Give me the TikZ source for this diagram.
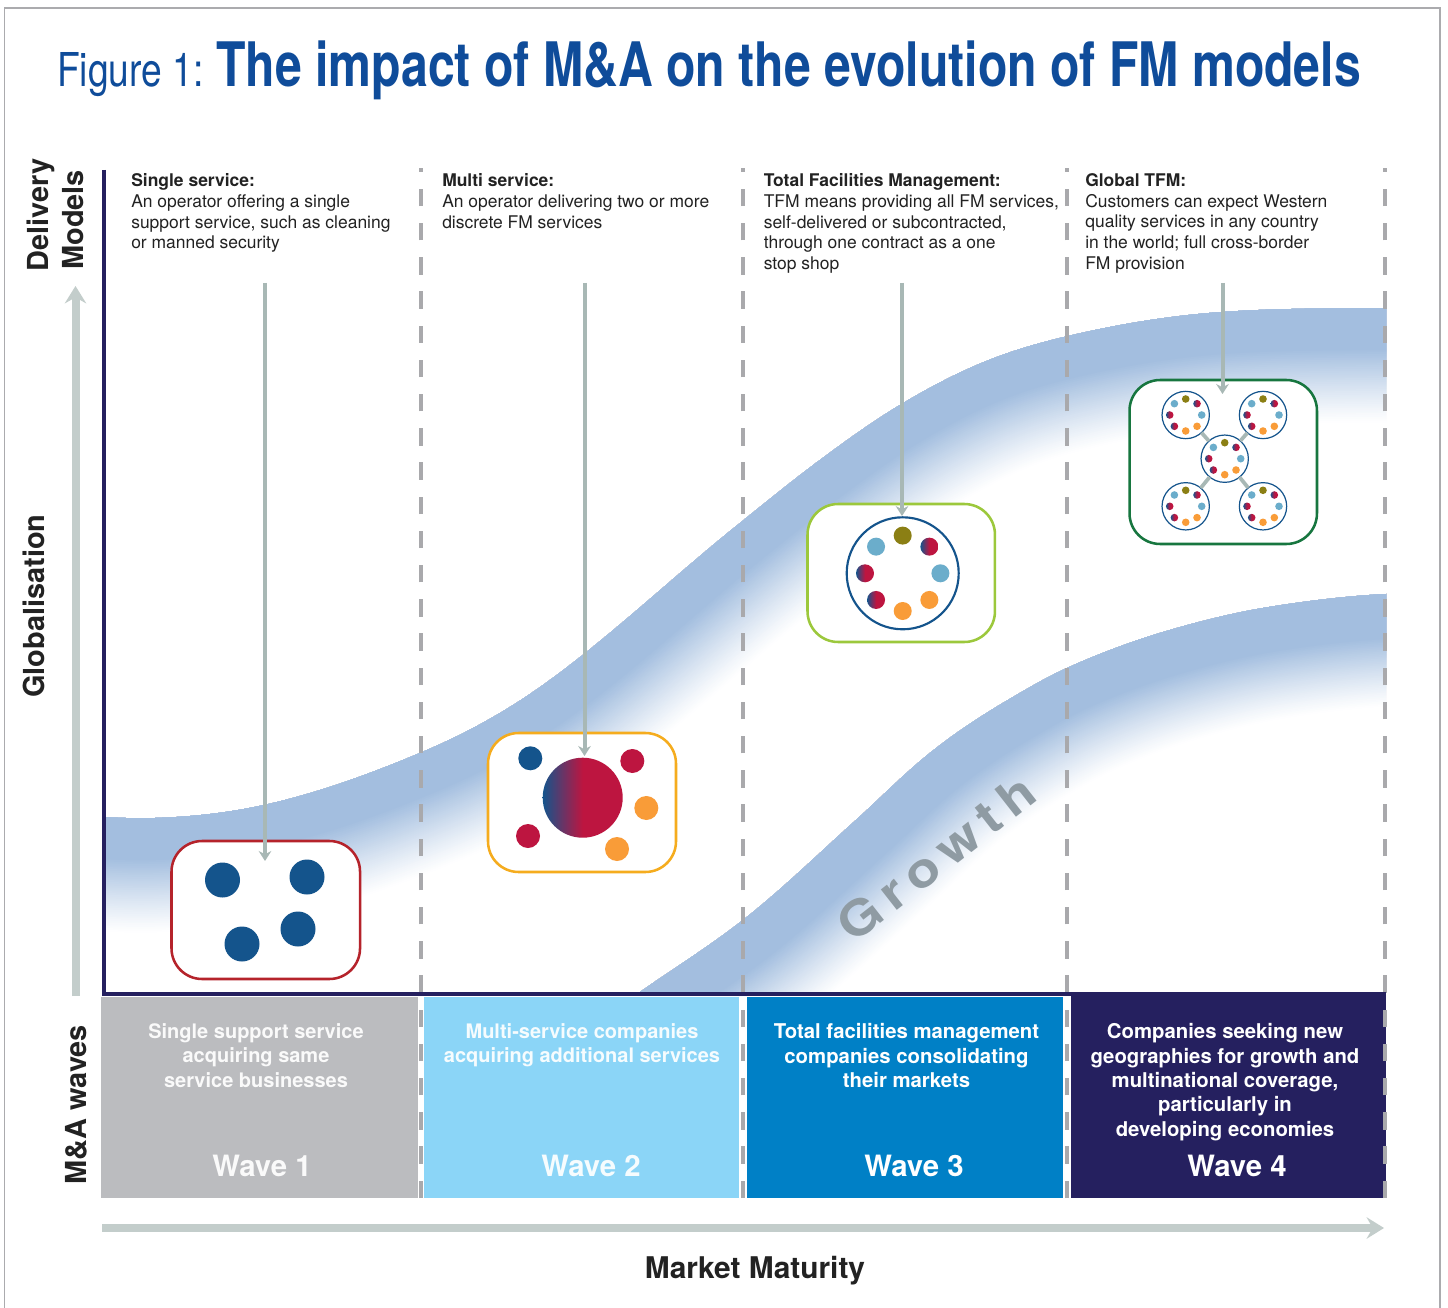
\documentclass[tikz,border=0pt]{standalone}
\usepackage{fontspec}
\usetikzlibrary{arrows.meta}
\setmainfont{TeX Gyre Heros}
\newfontfamily\titlefont[FakeStretch=0.786]{TeX Gyre Heros}
\newfontfamily\figfont[FakeStretch=0.797]{TeX Gyre Heros}
\newfontfamily\growthfont[LetterSpace=18,FakeStretch=1.15]{TeX Gyre Heros}
\definecolor{navy}{HTML}{25205F}
\definecolor{framegray}{HTML}{ABABAE}
\definecolor{dashgray}{HTML}{A9A9AC}
\definecolor{bandblue}{HTML}{A3BEDF}
\definecolor{titleblue}{HTML}{0F4C9A}
\definecolor{inktext}{HTML}{222222}
\definecolor{axisgray}{HTML}{C3CDCB}
\definecolor{arrowgray}{HTML}{A8B8B5}
\definecolor{dotblue}{HTML}{14548C}
\definecolor{dotred}{HTML}{BD1540}
\definecolor{dotorange}{HTML}{F99C38}
\definecolor{dotolive}{HTML}{8B7F14}
\definecolor{dotlight}{HTML}{6BADCB}
\definecolor{wavegray}{HTML}{BBBCBF}
\definecolor{wavesky}{HTML}{8BD5F7}
\definecolor{wavebright}{HTML}{0080C6}
\definecolor{growthgray}{HTML}{8F9BA3}
\definecolor{boxred}{HTML}{B5232B}
\definecolor{boxamber}{HTML}{F5AC1E}
\definecolor{boxlime}{HTML}{9CC83C}
\definecolor{boxgreen}{HTML}{17763F}
\tikzset{
  descr/.style={anchor=north west,align=left,inner sep=0pt,text=inktext,font=\fontsize{13.1}{15.5}\selectfont},
  wavetext/.style={anchor=north,align=center,inner sep=0pt,text=white,font=\bfseries\fontsize{15}{18.25}\selectfont},
  wavetextwide/.style={wavetext,font=\bfseries\fontsize{15.25}{18.25}\selectfont},
  wavename/.style={anchor=base,inner sep=0pt,text=white,font=\bfseries\fontsize{22}{26}\selectfont},
  sidelabel/.style={rotate=90,anchor=base west,inner sep=0pt,text=inktext,font=\bfseries\fontsize{21.7}{25}\selectfont},
  modelbox/.style={draw,line width=1.9pt,fill=white,rounded corners=23pt,inner sep=0pt,outer sep=0pt,anchor=north west},
  pointer/.style={draw=arrowgray,line width=3pt,-{Stealth[length=7.5pt,width=9.5pt,inset=2.5pt]}},
  bigarrow/.style={draw=axisgray,line width=6pt,-{Stealth[length=13pt,width=16pt,inset=4.5pt]}},
  divider/.style={draw=dashgray,line width=3.2pt,dash pattern=on 13pt off 12.65pt},
  wavebox/.style={inner sep=0pt,outer sep=0pt,minimum height=150.75pt,anchor=north west},
  ringbig/.style={circle,draw=dotblue,line width=1.6pt,fill=white,minimum size=84pt,inner sep=0pt,outer sep=0pt},
  ringsmall/.style={circle,draw=dotblue,line width=0.9pt,fill=white,minimum size=35.5pt,inner sep=0pt,outer sep=0pt},
  link/.style={draw=arrowgray,line width=2.8pt},
  halfgrad/.style={left color=dotblue,right color=dotred,middle color=dotred},
}
\newcommand{\plaindot}[4]{\fill[#4] (#1,#2) circle[radius=#3*0.75pt];}
\newcommand{\graddot}[3]{\shade[halfgrad] (#1,#2) circle[radius=#3*0.75pt];}
\newcommand{\ringdots}[4]{% x y orbit r
  \foreach \ang/\col in {90/dotolive,0/dotlight,-45/dotorange,-90/dotorange,135/dotlight}{
    \fill[\col] ({#1+#3*cos(\ang)},{#2-#3*sin(\ang)}) circle[radius=#4*0.75pt];}
  \foreach \ang in {45,180,225}{
    \shade[halfgrad] ({#1+#3*cos(\ang)},{#2-#3*sin(\ang)}) circle[radius=#4*0.75pt];}
}
\newcommand{\bandlayers}[3]{% curve, dmax, dmin
  \foreach \i in {0,...,39}{
    \pgfmathsetmacro\wid{2*0.75*(#2-(#2-#3)*\i/39)}
    \pgfmathsetmacro\pct{100*((\i+1)/40)^1.15}
    \draw[line width=\wid pt,color=bandblue!\pct!white,line join=round] #1;
  }
}
\begin{document}
\begin{tikzpicture}[x=0.75pt,y=-0.75pt]
\useasboundingbox (0,0) rectangle (1448,1308);
\fill[white] (0,0) rectangle (1448,1308);
\draw[framegray,line width=1.1pt] (4.5,1308) -- (4.5,8) -- (1440,8) -- (1440,1308);

% title
\node (figlabel) [anchor=base west,inner sep=0pt,text=titleblue,font=\figfont\fontsize{35}{40}\selectfont] at (57,87) {Figure 1:};
\node (titletext) [anchor=base west,inner sep=0pt,text=titleblue,font=\titlefont\bfseries\fontsize{46}{50}\selectfont] at (216,87) {The impact of M\&A on the evolution of FM models};

% growth bands
\def\curveA{(40,812) .. controls (80,816) and (120,819) .. (155,818)
  .. controls (191.3,816.9) and (227.7,813) .. (264,805)
  .. controls (316,793.6) and (368,774.8) .. (420,753)
  .. controls (453.7,738.9) and (487.3,721.9) .. (521,700)
  .. controls (594,652.5) and (667,581.4) .. (740,523)
  .. controls (766.7,501.6) and (793.3,479.8) .. (820,460)
  .. controls (846.7,440.2) and (873.3,421) .. (900,405)
  .. controls (928,388.2) and (956,373.5) .. (984,362)
  .. controls (1010.7,351.1) and (1037.3,343.4) .. (1064,337)
  .. controls (1116.7,324.4) and (1169.3,315.7) .. (1222,312)
  .. controls (1276.7,308.2) and (1331.3,308.5) .. (1386,308)
  -- (1440,308)}
\def\curveB{(600,1020) -- (640,992)
  .. controls (674.3,968) and (708.7,946.8) .. (743,920)
  .. controls (780.7,890.6) and (818.3,853.9) .. (856,820)
  .. controls (879,799.3) and (902,775.9) .. (925,757)
  .. controls (952.7,734.3) and (980.3,716.3) .. (1008,700)
  .. controls (1027.7,688.4) and (1047.3,676.9) .. (1067,668)
  .. controls (1101.3,652.6) and (1135.7,639.9) .. (1170,630)
  .. controls (1203,620.4) and (1236,612.3) .. (1269,607)
  .. controls (1308,600.8) and (1347,596) .. (1386,594)
  -- (1440,592)}
\begin{scope}
  \clip (106,150) rectangle (1386,995);
  \begin{scope}
    \clip \curveA -- (1440,1010) -- (40,1010) -- cycle;
    \bandlayers{\curveA}{114}{42}
  \end{scope}
  \begin{scope}
    \clip \curveB -- (1440,1010) -- (600,1020) -- cycle;
    \bandlayers{\curveB}{112}{45}
  \end{scope}
\end{scope}
\node (growth) [rotate=38,inner sep=0pt,text=growthgray,font=\growthfont\bfseries\fontsize{36}{40}\selectfont] at (936,858) {Growth};

% wave blocks
\fill[navy] (1071,992) rectangle (1386,998);
\node (w1box) [wavebox,fill=wavegray,minimum width=237.75pt] at (101,997) {};
\node (w2box) [wavebox,fill=wavesky,minimum width=236.25pt] at (424,997) {};
\node (w3box) [wavebox,fill=wavebright,minimum width=237pt] at (747,997) {};
\node (w4box) [wavebox,fill=navy,minimum width=236.25pt] at (1071,997) {};

% dividers
\coordinate (d1b) at (421,1198); \coordinate (d1t) at (421,168);
\coordinate (d2b) at (743,1198); \coordinate (d2t) at (743,168);
\coordinate (d3b) at (1067,1198); \coordinate (d3t) at (1067,168);
\coordinate (d4b) at (1385,1198); \coordinate (d4t) at (1385,168);
\draw[divider] (d1b) -- (d1t);
\draw[divider] (d2b) -- (d2t);
\draw[divider] (d3b) -- (d3t);
\draw[divider] (d4b) -- (d4t);

% axes
\coordinate (axtop) at (104,170); \coordinate (axcorner) at (104,994); \coordinate (axright) at (1386,994);
\draw[navy,line width=3pt] (axtop) -- (axcorner) -- (axright);

% big arrows
\coordinate (vb) at (75.5,996); \coordinate (vt) at (75.5,286);
\coordinate (hl) at (102,1228); \coordinate (hr) at (1384,1228);
\draw[bigarrow] (vb) -- (vt);
\draw[bigarrow] (hl) -- (hr);

% side labels
\node (lab1) [sidelabel] at (48,272) {Delivery};
\node (lab2) [sidelabel] at (83,270) {Models};
\node (lab3) [sidelabel] at (44,698) {Globalisation};
\node (lab4) [sidelabel] at (86.5,1185) {M\&A waves};
\node (market) [anchor=base,inner sep=0pt,text=inktext,font=\bfseries\fontsize{22.4}{26}\selectfont] at (755,1278) {Market Maturity};

% descriptions
\node (t1) [descr] at (131,173.4) {\textbf{Single service:}\\An operator offering a single\\support service, such as cleaning\\or manned security};
\node (t2) [descr] at (442,173.4) {\textbf{Multi service:}\\An operator delivering two or more\\discrete FM services};
\node (t3) [descr] at (763.5,173.4) {\textbf{Total Facilities Management:}\\TFM means providing all FM services,\\self-delivered or subcontracted,\\through one contract as a one\\stop shop};
\node (t4) [descr] at (1085,173.4) {\textbf{Global TFM:}\\Customers can expect Western\\quality services in any country\\in the world; full cross-border\\FM provision};

% model boxes
\node (b1) [modelbox,draw=boxred,minimum width=141.4pt,minimum height=103.5pt] at (171.5,841) {};
\node (b2) [modelbox,draw=boxamber,minimum width=141pt,minimum height=104.25pt] at (488,733) {};
\node (b3) [modelbox,draw=boxlime,minimum width=140.6pt,minimum height=103.5pt] at (807.5,504) {};
\node (b4) [modelbox,draw=boxgreen,minimum width=140.6pt,minimum height=123pt] at (1129.5,380) {};

% box 1 dots
\plaindot{222.5}{880}{17.5}{dotblue}
\plaindot{307}{877}{17.5}{dotblue}
\plaindot{242}{944}{17.5}{dotblue}
\plaindot{298}{929}{17.5}{dotblue}

% box 2 dots
\graddot{582.7}{797.7}{40}
\plaindot{530.3}{758.3}{12}{dotblue}
\plaindot{632.3}{761}{12}{dotred}
\plaindot{646.3}{808}{12}{dotorange}
\plaindot{528}{836}{12}{dotred}
\plaindot{617}{849}{12}{dotorange}

% box 3 ring
\node (ringm) [ringbig] at (902.7,573.3) {};
\ringdots{902.7}{573.3}{37.7}{9}

% box 4 rings
\node (r0) [ringsmall] at (1224.7,458.7) {};
\node (r1) [ringsmall] at (1185.7,415) {};
\node (r2) [ringsmall] at (1263,415) {};
\node (r3) [ringsmall] at (1185.7,506.3) {};
\node (r4) [ringsmall] at (1263,506.3) {};
\draw[link] (r0) -- (r1);
\draw[link] (r0) -- (r2);
\draw[link] (r0) -- (r3);
\draw[link] (r0) -- (r4);
\ringdots{1224.7}{458.7}{16}{3.8}
\ringdots{1185.7}{415}{16}{3.8}
\ringdots{1263}{415}{16}{3.8}
\ringdots{1185.7}{506.3}{16}{3.8}
\ringdots{1263}{506.3}{16}{3.8}

% pointers
\coordinate (p1a) at (265,283); \coordinate (p1b) at (265,861);
\coordinate (p2a) at (584.5,283); \coordinate (p2b) at (584.5,756);
\coordinate (p3a) at (902,283); \coordinate (p3b) at (902,516);
\coordinate (p4a) at (1222.5,283); \coordinate (p4b) at (1222.5,394);
\draw[pointer] (p1a) -- (p1b);
\draw[pointer] (p2a) -- (p2b);
\draw[pointer] (p3a) -- (p3b);
\draw[pointer] (p4a) -- (p4b);

% wave texts
\node (w1t) [wavetext,text=white!92!wavegray] at (256,1023.4) {Single support service\\acquiring same\\service businesses};
\node (w2t) [wavetext,text=white!92!wavesky] at (582,1023.4) {Multi-service companies\\acquiring additional services};
\node (w3t) [wavetextwide] at (906.5,1023.4) {Total facilities management\\companies consolidating\\their markets};
\node (w4t) [wavetextwide] at (1225,1023.4) {Companies seeking new\\geographies for growth and\\multinational coverage,\\particularly in\\developing economies};
\node (w1n) [wavename,text=white!92!wavegray] at (262,1176) {Wave 1};
\node (w2n) [wavename,text=white!92!wavesky] at (591,1176) {Wave 2};
\node (w3n) [wavename] at (914,1176) {Wave 3};
\node (w4n) [wavename] at (1237,1176) {Wave 4};
\end{tikzpicture}
\end{document}
